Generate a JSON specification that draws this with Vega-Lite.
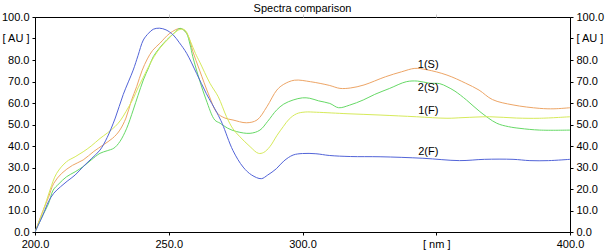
{
  "$schema": "https://vega.github.io/schema/vega-lite/v6.json",
  "autosize": {"type": "none"},
  "width": 535,
  "height": 215,
  "padding": {"left": 35, "top": 17, "right": 36, "bottom": 20},
  "background": "white",
  "title": {"text": "Spectra comparison", "font": "Liberation Sans", "fontSize": 11, "fontWeight": "normal", "color": "#000", "anchor": "middle", "offset": -3},
  "config": {
    "view": {"stroke": "#000", "strokeWidth": 1},
    "axis": {"labelFont": "Liberation Sans", "labelFontSize": 11, "labelColor": "#000", "domainColor": "#000", "tickColor": "#000", "tickSize": 3, "grid": false, "title": null, "labelPadding": 3}
  },
  "datasets": {
    "spectra": [
      {"series":"1(S)","nm":200,"au":0},{"series":"1(S)","nm":203,"au":10},{"series":"1(S)","nm":205,"au":16},{"series":"1(S)","nm":207,"au":22.6},{"series":"1(S)","nm":210,"au":27.3},{"series":"1(S)","nm":214,"au":31},{"series":"1(S)","nm":218,"au":33.5},{"series":"1(S)","nm":222,"au":37.5},{"series":"1(S)","nm":225.5,"au":40.5},{"series":"1(S)","nm":229,"au":43.6},{"series":"1(S)","nm":231.5,"au":47},{"series":"1(S)","nm":234,"au":53},{"series":"1(S)","nm":236,"au":61},{"series":"1(S)","nm":238,"au":67.6},{"series":"1(S)","nm":240,"au":75},{"series":"1(S)","nm":242,"au":80.5},{"series":"1(S)","nm":244,"au":84.5},{"series":"1(S)","nm":246.7,"au":87.8},{"series":"1(S)","nm":250.4,"au":92.4},{"series":"1(S)","nm":254.2,"au":94.7},{"series":"1(S)","nm":256,"au":93.5},{"series":"1(S)","nm":257.5,"au":90.5},{"series":"1(S)","nm":259,"au":84},{"series":"1(S)","nm":261.5,"au":75.3},{"series":"1(S)","nm":265,"au":63.7},{"series":"1(S)","nm":268,"au":55.5},{"series":"1(S)","nm":271,"au":53},{"series":"1(S)","nm":274,"au":52.1},{"series":"1(S)","nm":279,"au":50.8},{"series":"1(S)","nm":283,"au":52.1},{"series":"1(S)","nm":286.7,"au":58.3},{"series":"1(S)","nm":290.4,"au":66},{"series":"1(S)","nm":293,"au":68.7},{"series":"1(S)","nm":297,"au":70.6},{"series":"1(S)","nm":303,"au":69.9},{"series":"1(S)","nm":310,"au":68.2},{"series":"1(S)","nm":314,"au":66.8},{"series":"1(S)","nm":318,"au":67},{"series":"1(S)","nm":323,"au":68.4},{"series":"1(S)","nm":331,"au":72.2},{"series":"1(S)","nm":337,"au":74.5},{"series":"1(S)","nm":342,"au":76.1},{"series":"1(S)","nm":346.4,"au":75.5},{"series":"1(S)","nm":354,"au":73},{"series":"1(S)","nm":361,"au":69.2},{"series":"1(S)","nm":366,"au":66},{"series":"1(S)","nm":371,"au":61.6},{"series":"1(S)","nm":378.7,"au":59.1},{"series":"1(S)","nm":388.7,"au":57.5},{"series":"1(S)","nm":394,"au":57.3},{"series":"1(S)","nm":400,"au":57.8},

      {"series":"2(S)","nm":200,"au":0},{"series":"2(S)","nm":203,"au":8},{"series":"2(S)","nm":205,"au":13},{"series":"2(S)","nm":206.8,"au":19.5},{"series":"2(S)","nm":209,"au":22.5},{"series":"2(S)","nm":211.8,"au":25.7},{"series":"2(S)","nm":215,"au":28},{"series":"2(S)","nm":218,"au":30.4},{"series":"2(S)","nm":221,"au":33.5},{"series":"2(S)","nm":224.3,"au":36.6},{"series":"2(S)","nm":227,"au":37.8},{"series":"2(S)","nm":229.5,"au":39},{"series":"2(S)","nm":231.7,"au":42},{"series":"2(S)","nm":234.2,"au":48},{"series":"2(S)","nm":236.7,"au":56.7},{"series":"2(S)","nm":238.5,"au":63.5},{"series":"2(S)","nm":240.5,"au":70.7},{"series":"2(S)","nm":242.5,"au":76.5},{"series":"2(S)","nm":244.2,"au":81.5},{"series":"2(S)","nm":246.5,"au":85.5},{"series":"2(S)","nm":249.2,"au":89.3},{"series":"2(S)","nm":252,"au":92.5},{"series":"2(S)","nm":254.2,"au":94.7},{"series":"2(S)","nm":255.5,"au":94},{"series":"2(S)","nm":256.7,"au":92.4},{"series":"2(S)","nm":258,"au":87},{"series":"2(S)","nm":259,"au":81.5},{"series":"2(S)","nm":261.5,"au":70.7},{"series":"2(S)","nm":264,"au":61.4},{"series":"2(S)","nm":267.2,"au":52.1},{"series":"2(S)","nm":269.2,"au":50.6},{"series":"2(S)","nm":272,"au":48.3},{"series":"2(S)","nm":275.4,"au":46.7},{"series":"2(S)","nm":280.4,"au":45.9},{"series":"2(S)","nm":284.1,"au":47.4},{"series":"2(S)","nm":287,"au":51.5},{"series":"2(S)","nm":290.3,"au":56.7},{"series":"2(S)","nm":293,"au":59.5},{"series":"2(S)","nm":296.5,"au":61.4},{"series":"2(S)","nm":300,"au":62.4},{"series":"2(S)","nm":302.7,"au":62.2},{"series":"2(S)","nm":306,"au":61},{"series":"2(S)","nm":310.2,"au":59.8},{"series":"2(S)","nm":313.5,"au":57.8},{"series":"2(S)","nm":317.6,"au":59},{"series":"2(S)","nm":322.7,"au":61.4},{"series":"2(S)","nm":327,"au":64},{"series":"2(S)","nm":332.6,"au":66.8},{"series":"2(S)","nm":338.8,"au":69.9},{"series":"2(S)","nm":343,"au":70.2},{"series":"2(S)","nm":347.5,"au":69.2},{"series":"2(S)","nm":351.3,"au":69},{"series":"2(S)","nm":354,"au":67.6},{"series":"2(S)","nm":357,"au":65.5},{"series":"2(S)","nm":361.3,"au":61.4},{"series":"2(S)","nm":366.3,"au":56},{"series":"2(S)","nm":372.6,"au":50.6},{"series":"2(S)","nm":377,"au":49},{"series":"2(S)","nm":381.3,"au":48.2},{"series":"2(S)","nm":388.7,"au":47.4},{"series":"2(S)","nm":400,"au":47.4},

      {"series":"1(F)","nm":200,"au":0},{"series":"1(F)","nm":203.1,"au":10},{"series":"1(F)","nm":205.6,"au":19.5},{"series":"1(F)","nm":208.1,"au":27.3},{"series":"1(F)","nm":211.8,"au":32.7},{"series":"1(F)","nm":215,"au":35},{"series":"1(F)","nm":218,"au":37.3},{"series":"1(F)","nm":221,"au":40},{"series":"1(F)","nm":224.3,"au":43.5},{"series":"1(F)","nm":227,"au":46},{"series":"1(F)","nm":229.9,"au":49},{"series":"1(F)","nm":232,"au":52},{"series":"1(F)","nm":234,"au":56},{"series":"1(F)","nm":236.7,"au":62},{"series":"1(F)","nm":238.5,"au":67},{"series":"1(F)","nm":240.5,"au":72},{"series":"1(F)","nm":242.5,"au":77},{"series":"1(F)","nm":244.5,"au":81.5},{"series":"1(F)","nm":247,"au":86},{"series":"1(F)","nm":250,"au":90},{"series":"1(F)","nm":252,"au":92.5},{"series":"1(F)","nm":254.2,"au":94.2},{"series":"1(F)","nm":256,"au":94},{"series":"1(F)","nm":258,"au":89},{"series":"1(F)","nm":260,"au":83},{"series":"1(F)","nm":261.6,"au":79},{"series":"1(F)","nm":265.4,"au":69.2},{"series":"1(F)","nm":268.5,"au":62.9},{"series":"1(F)","nm":271.6,"au":53.6},{"series":"1(F)","nm":274,"au":48},{"series":"1(F)","nm":276.6,"au":44.3},{"series":"1(F)","nm":280.4,"au":39.7},{"series":"1(F)","nm":283.5,"au":36.6},{"series":"1(F)","nm":285.5,"au":37},{"series":"1(F)","nm":287.8,"au":39.7},{"series":"1(F)","nm":290.5,"au":45},{"series":"1(F)","nm":292.8,"au":49},{"series":"1(F)","nm":295,"au":52.5},{"series":"1(F)","nm":297.8,"au":55},{"series":"1(F)","nm":301,"au":55.8},{"series":"1(F)","nm":305.2,"au":55.7},{"series":"1(F)","nm":317,"au":55},{"series":"1(F)","nm":329,"au":54.4},{"series":"1(F)","nm":342.6,"au":53.6},{"series":"1(F)","nm":354,"au":52.9},{"series":"1(F)","nm":360,"au":53.2},{"series":"1(F)","nm":370,"au":53.6},{"series":"1(F)","nm":380,"au":53},{"series":"1(F)","nm":388.7,"au":52.9},{"series":"1(F)","nm":400,"au":53.6},

      {"series":"2(F)","nm":200,"au":0},{"series":"2(F)","nm":203,"au":8},{"series":"2(F)","nm":205,"au":14},{"series":"2(F)","nm":207,"au":18},{"series":"2(F)","nm":209.5,"au":21},{"series":"2(F)","nm":212,"au":23.6},{"series":"2(F)","nm":215,"au":26.5},{"series":"2(F)","nm":218,"au":30.4},{"series":"2(F)","nm":221,"au":34},{"series":"2(F)","nm":224.3,"au":38.1},{"series":"2(F)","nm":227,"au":44},{"series":"2(F)","nm":230,"au":53},{"series":"2(F)","nm":233,"au":64},{"series":"2(F)","nm":236.7,"au":75.3},{"series":"2(F)","nm":238.5,"au":82},{"series":"2(F)","nm":240.5,"au":89.3},{"series":"2(F)","nm":242.5,"au":92.5},{"series":"2(F)","nm":244.2,"au":94.3},{"series":"2(F)","nm":246.5,"au":94.8},{"series":"2(F)","nm":249,"au":94},{"series":"2(F)","nm":251.7,"au":91.6},{"series":"2(F)","nm":254,"au":88},{"series":"2(F)","nm":256.7,"au":83.1},{"series":"2(F)","nm":260.4,"au":73.8},{"series":"2(F)","nm":264,"au":64.5},{"series":"2(F)","nm":268,"au":55.5},{"series":"2(F)","nm":270,"au":50.4},{"series":"2(F)","nm":274,"au":37.9},{"series":"2(F)","nm":277.8,"au":30.2},{"series":"2(F)","nm":281,"au":26.5},{"series":"2(F)","nm":284.6,"au":24.8},{"series":"2(F)","nm":287,"au":26.5},{"series":"2(F)","nm":290.2,"au":29.4},{"series":"2(F)","nm":293,"au":33},{"series":"2(F)","nm":296.5,"au":35.8},{"series":"2(F)","nm":300,"au":36.5},{"series":"2(F)","nm":305,"au":36.4},{"series":"2(F)","nm":310,"au":35.6},{"series":"2(F)","nm":318,"au":35.1},{"series":"2(F)","nm":329,"au":35},{"series":"2(F)","nm":345,"au":34.3},{"series":"2(F)","nm":358.7,"au":33.2},{"series":"2(F)","nm":368,"au":33.8},{"series":"2(F)","nm":378.7,"au":33.8},{"series":"2(F)","nm":385,"au":33.2},{"series":"2(F)","nm":392,"au":33.2},{"series":"2(F)","nm":400,"au":33.8}
    ],
    "labels": [
      {"series":"1(S)","nm":347,"au":77.7},
      {"series":"2(S)","nm":347,"au":66.8},
      {"series":"1(F)","nm":347,"au":56.3},
      {"series":"2(F)","nm":347,"au":37.2}
    ]
  },
  "layer": [
    {
      "data": {"name": "spectra"},
      "mark": {"type": "line", "strokeWidth": 1, "interpolate": "catmull-rom", "clip": true},
      "encoding": {
        "x": {"field": "nm", "type": "quantitative", "scale": {"domain": [200, 400], "nice": false, "zero": false},
          "axis": {"orient": "bottom", "values": [200, 250, 300, 350, 400], "labelExpr": "datum.value == 350 ? '[ nm ]' : format(datum.value, '.1f')", "labelFlush": false}},
        "y": {"field": "au", "type": "quantitative", "scale": {"domain": [0, 100], "nice": false},
          "axis": {"orient": "left", "values": [0,10,20,30,40,50,60,70,80,90,100], "labelExpr": "datum.value == 90 ? '[ AU ]' : format(datum.value, '.1f')"}},
        "color": {"field": "series", "type": "nominal", "scale": {"domain": ["1(S)","2(S)","1(F)","2(F)"], "range": ["#eda566","#66d966","#d6ea5a","#5264d8"]}, "legend": null},
        "detail": {"field": "series"}
      }
    },
    {
      "data": {"name": "labels"},
      "mark": {"type": "text", "font": "Liberation Sans", "fontSize": 11, "color": "#000", "align": "center", "baseline": "middle"},
      "encoding": {
        "x": {"field": "nm", "type": "quantitative",
          "axis": {"orient": "top", "values": [250, 300, 350], "labels": false, "domain": false, "tickColor": "#c8c8c8"}},
        "y": {"field": "au", "type": "quantitative",
          "axis": {"orient": "right", "values": [0,10,20,30,40,50,60,70,80,90,100], "labelExpr": "datum.value == 90 ? '[ AU ]' : format(datum.value, '.1f')"}},
        "text": {"field": "series"}
      }
    }
  ],
  "resolve": {"axis": {"x": "independent", "y": "independent"}}
}
